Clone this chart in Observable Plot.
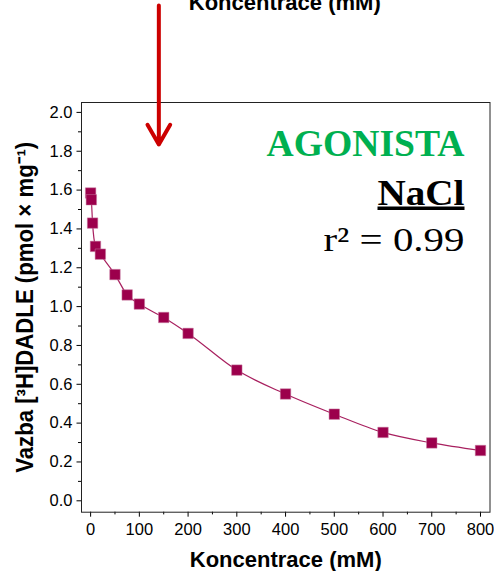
<!DOCTYPE html>
<html><head><meta charset="utf-8">
<script src="https://cdn.jsdelivr.net/npm/d3@7"></script>
<script src="https://cdn.jsdelivr.net/npm/@observablehq/plot@0.6"></script>
<style>
html,body{margin:0;padding:0;background:#fff;}
#chart{width:494px;height:571px;overflow:hidden;}
#chart svg{display:block;}
</style></head><body><div id="chart"></div>
<script>
// ---- data ----
const concentration = [0, 1.5, 4, 10, 20, 50, 75, 100, 150, 200, 300, 400, 500, 600, 700, 800];
const binding = [1.585, 1.55, 1.43, 1.31, 1.27, 1.165, 1.06, 1.013, 0.944, 0.862, 0.673, 0.55, 0.446, 0.352, 0.298, 0.259];
const xTicks = [0, 100, 200, 300, 400, 500, 600, 700, 800];
const xMinorTicks = [50, 150, 250, 350, 450, 550, 650, 750];
const yTicks = [0, 0.2, 0.4, 0.6, 0.8, 1.0, 1.2, 1.4, 1.6, 1.8, 2.0];
const yMinorTicks = [0.1, 0.3, 0.5, 0.7, 0.9, 1.1, 1.3, 1.5, 1.7, 1.9];
const arrowAt = [{x: 140, y1: 2.551, y2: 1.835}];
const xLabel = "Koncentrace (mM)";
const yLabel = "Vazba [³H]DADLE (pmol × mg⁻¹)";
const legendTitle = "AGONISTA";
const legendSalt = "NaCl";
const legendFit = "r² = 0.99";

const points = concentration.map((c, i) => ({c, b: binding[i]}));

const plot = Plot.plot({
  width: 494, height: 571,
  marginLeft: 81, marginRight: 4.5, marginTop: 102, marginBottom: 59.3,
  style: {fontFamily: "'Liberation Sans', Arial, sans-serif", fontSize: "16.5px", color: "#000", background: "#fff", overflow: "visible"},
  x: {domain: [-18.7, 819.5], axis: null},
  y: {domain: [-0.0587, 2.051], axis: null},
  marks: [
    Plot.axisX({ticks: xMinorTicks, tickSize: 2.7, tickFormat: () => "", label: null}),
    Plot.axisX({ticks: xTicks, tickSize: 5, tickPadding: 6, tickFormat: d => String(d), label: null}),
    Plot.axisY({ticks: yMinorTicks, tickSize: 3, tickFormat: () => "", label: null}),
    Plot.axisY({ticks: yTicks, tickSize: 4.5, tickPadding: 4.5, tickFormat: d3.format(".1f"), label: null}),
    Plot.line(points, {x: "c", y: "b", curve: "monotone-x", stroke: "#a8205f", strokeWidth: 1.2}),
    Plot.dot(points, {x: "c", y: "b", symbol: "square", r: 5.9, fill: "#9c004c", stroke: "#c77aa0", strokeWidth: 0.5}),
    Plot.frame({stroke: "#222", strokeWidth: 1}),
    Plot.arrow(arrowAt, {x: "x", y1: "y1", y2: "y2", stroke: "#cc0000", strokeWidth: 4, headLength: 8.5, headAngle: 60}),
    Plot.text([xLabel], {frameAnchor: "bottom", lineAnchor: "bottom", dy: 54.3, fontSize: 22, fontWeight: "bold"}),
    Plot.text([xLabel], {frameAnchor: "top", lineAnchor: "bottom", dx: -1, dy: -92.5, fontSize: 22, fontWeight: "bold"}),
    Plot.text([yLabel], {frameAnchor: "left", textAnchor: "middle", lineAnchor: "bottom", rotate: -90, dx: -49, fontSize: 23, fontWeight: "bold"}),
    Plot.text([legendTitle], {frameAnchor: "top-right", textAnchor: "end", lineAnchor: "bottom", dx: -25.5, dy: 53, fontSize: 38, fontWeight: "bold", fontFamily: "'Liberation Serif', serif", fill: "#00b050"}),
    Plot.text([legendSalt], {frameAnchor: "top-right", textAnchor: "end", lineAnchor: "bottom", dx: -25.5, dy: 102, fontSize: 35, fontWeight: "bold", fontFamily: "'Liberation Serif', serif", fill: "#000"}),
    Plot.text([legendFit], {frameAnchor: "top-right", textAnchor: "end", lineAnchor: "bottom", dx: -25.5, dy: 148, fontSize: 33, fontFamily: "'Liberation Serif', serif", fill: "#000"})
  ]
});

document.getElementById("chart").appendChild(plot);

// text fitting / decoration
const fit = {[legendTitle]: 198, [legendSalt]: 87, [legendFit]: 141, [yLabel]: 331};
d3.select(plot).selectAll("text").each(function() {
  const t = this.textContent;
  if (fit[t]) {
    this.setAttribute("textLength", fit[t]);
    this.setAttribute("lengthAdjust", "spacingAndGlyphs");
  }
  if (t === legendSalt) this.style.textDecoration = "underline";
});
</script>
</body></html>
